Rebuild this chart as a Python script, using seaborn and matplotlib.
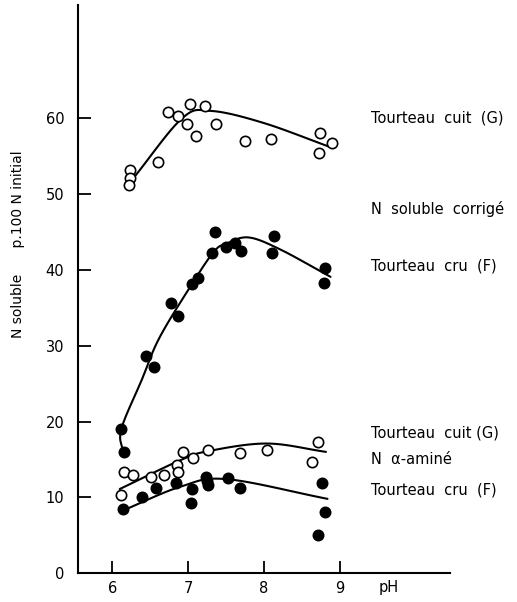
import numpy as np
import pandas as pd
import matplotlib
matplotlib.use("Agg")
import matplotlib.pyplot as plt
import seaborn as sns

# ---- data ----
# N soluble corrigé, Tourteau cuit (G) - open circles
sol_G_ph = [6.24, 6.23, 6.22, 6.61, 6.73, 6.87, 7.02, 6.99, 7.11, 7.23, 7.37, 7.75, 8.10, 8.74, 8.73, 8.90]
sol_G_val = [53.2, 52.1, 51.2, 54.3, 60.9, 60.3, 61.9, 59.3, 57.7, 61.6, 59.3, 57.0, 57.3, 58.1, 55.5, 56.8]
# N soluble corrigé, Tourteau cru (F) - filled circles
sol_F_ph = [6.12, 6.16, 6.45, 6.55, 6.77, 6.87, 7.05, 7.13, 7.35, 7.32, 7.50, 7.62, 7.70, 8.13, 8.11, 8.81, 8.79]
sol_F_val = [19.0, 16.0, 28.7, 27.2, 35.7, 33.9, 38.1, 39.0, 45.0, 42.3, 43.0, 43.6, 42.5, 44.5, 42.3, 40.3, 38.3]
# N alpha-aminé, Tourteau cuit (G) - open circles
am_G_ph = [6.15, 6.28, 6.12, 6.51, 6.69, 6.85, 6.87, 6.93, 7.06, 7.27, 7.68, 8.04, 8.72, 8.64]
am_G_val = [13.4, 12.9, 10.3, 12.7, 13.0, 14.3, 13.4, 16.0, 15.2, 16.2, 15.9, 16.2, 17.3, 14.6]
# N alpha-aminé, Tourteau cru (F) - filled circles
am_F_ph = [6.14, 6.39, 6.58, 6.84, 7.05, 7.04, 7.24, 7.25, 7.26, 7.53, 7.69, 8.77, 8.81, 8.72]
am_F_val = [8.4, 10.0, 11.2, 11.9, 11.1, 9.3, 12.7, 12.2, 11.6, 12.6, 11.2, 11.9, 8.1, 5.0]

# hand-drawn curves (anchor points)
cur_sol_G_ph = [6.27, 6.92, 7.30, 8.00, 8.91]
cur_sol_G_val = [52.0, 60.0, 61.0, 59.4, 56.1]
cur_sol_F_ph = [6.14, 6.12, 6.39, 6.62, 7.03, 7.34, 7.51, 7.80, 8.22, 8.88]
cur_sol_F_val = [16.0, 19.0, 25.5, 31.0, 37.8, 42.4, 43.5, 44.3, 42.7, 39.1]
cur_am_G_ph = [6.10, 6.90, 7.27, 8.04, 8.82]
cur_am_G_val = [11.1, 14.9, 16.1, 17.1, 16.0]
cur_am_F_ph = [6.15, 6.90, 7.51, 8.84]
cur_am_F_val = [8.3, 11.4, 12.4, 9.8]

yticks = [0, 10, 20, 30, 40, 50, 60]
xticks = [6, 7, 8, 9]

right_labels = [
    ("Tourteau  cuit  (G)", 60.1),
    ("N  soluble  corrigé", 48.0),
    ("Tourteau  cru  (F)", 40.5),
    ("Tourteau  cuit (G)", 18.5),
    ("N  \u03b1-aminé", 15.0),
    ("Tourteau  cru  (F)", 11.0),
]


def catmull(xs, ys, n=30):
    pts = np.column_stack([xs, ys]).astype(float)
    pts = np.vstack([2 * pts[0] - pts[1], pts, 2 * pts[-1] - pts[-2]])
    out = []
    for i in range(1, len(pts) - 2):
        p0, p1, p2, p3 = pts[i - 1], pts[i], pts[i + 1], pts[i + 2]
        t = np.linspace(0, 1, n, endpoint=False)[:, None]
        seg = 0.5 * ((2 * p1) + (-p0 + p2) * t + (2 * p0 - 5 * p1 + 4 * p2 - p3) * t ** 2
                     + (-p0 + 3 * p1 - 3 * p2 + p3) * t ** 3)
        out.append(seg)
    out.append(pts[-2][None, :])
    arr = np.vstack(out)
    return arr[:, 0], arr[:, 1]


sns.set_theme(style="ticks")
plt.rcParams['font.family'] = ['DejaVu Sans']
plt.rcParams['text.color'] = 'black'
plt.rcParams['xtick.color'] = 'black'
plt.rcParams['ytick.color'] = 'black'

fig = plt.figure(figsize=(5.17, 6.02), dpi=100)
ax = fig.add_axes([0.151, 0.048, 0.72, 0.944])

for cx, cy in [(cur_sol_G_ph, cur_sol_G_val), (cur_sol_F_ph, cur_sol_F_val),
               (cur_am_G_ph, cur_am_G_val), (cur_am_F_ph, cur_am_F_val)]:
    sx, sy = catmull(cx, cy)
    df = pd.DataFrame({"x": sx, "y": sy})
    sns.lineplot(data=df, x="x", y="y", sort=False, color="black", lw=1.5, ax=ax)

for px, py, fill in [(sol_G_ph, sol_G_val, "white"), (sol_F_ph, sol_F_val, "black"),
                     (am_G_ph, am_G_val, "white"), (am_F_ph, am_F_val, "black")]:
    df = pd.DataFrame({"x": px, "y": py})
    sns.scatterplot(data=df, x="x", y="y", color=fill, edgecolor="black",
                    linewidth=1.2, s=55, zorder=5, ax=ax)

ax.set_xlim(5.55, 10.46)
ax.set_ylim(0, 75)
ax.set_xticks(xticks)
ax.set_yticks(yticks)
ax.set_xticklabels([str(v) for v in xticks])
ax.set_yticklabels([str(v) for v in yticks])
ax.tick_params(axis="both", direction="in", length=9, width=1.3, labelsize=10.5,
               colors="black", labelcolor="black", pad=6)
ax.tick_params(axis="y", pad=10)
ax.set_xlabel("")
ax.set_ylabel("")
sns.despine(ax=ax)
for s in ["left", "bottom"]:
    ax.spines[s].set_linewidth(1.5)
    ax.spines[s].set_color("black")

ax.annotate("pH", xy=(9.65, 0), xycoords="data", xytext=(0, -5), textcoords="offset points",
            ha="center", va="top", fontsize=10.5, color="black")
fig.text(0.034, 0.595, "N soluble      p.100 N initial", rotation=90, ha="center", va="center",
         fontsize=10, color="black")

for txt, yv in right_labels:
    ax.text(9.42, yv, txt, ha="left", va="center", fontsize=10.5, clip_on=False, color="black")

fig.savefig("out.png", dpi=100)
